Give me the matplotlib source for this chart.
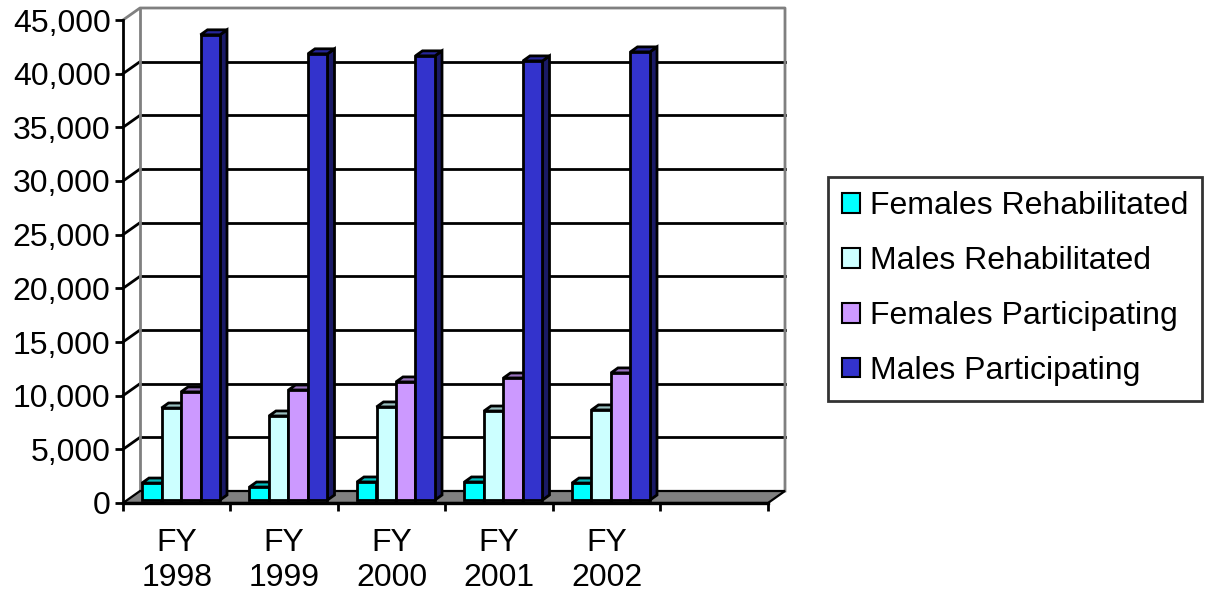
import matplotlib
matplotlib.use("Agg")
import matplotlib.pyplot as plt
from matplotlib.patches import Polygon, Patch
import numpy as np

plt.rcParams['font.family'] = ['Liberation Sans', 'DejaVu Sans']

years = ["FY\n1998", "FY\n1999", "FY\n2000", "FY\n2001", "FY\n2002"]
series = ["Females Rehabilitated", "Males Rehabilitated",
          "Females Participating", "Males Participating"]
females_rehab = [1580, 1210, 1680, 1680, 1580]
males_rehab = [8570, 7830, 8670, 8290, 8390]
females_part = [10070, 10250, 11000, 11370, 11840]
males_part = [43340, 41570, 41380, 40910, 41750]
values = [females_rehab, males_rehab, females_part, males_part]
colors = ["#00FFFF", "#CCFFFF", "#CC99FF", "#3333CC"]

W, H = 1207, 594
fig = plt.figure(figsize=(W / 100, H / 100), dpi=100)
# front axis: x 123..768 px, y 0 at 503 px, 45000 at 20 px
ax = fig.add_axes([123 / W, (H - 503) / H, (768 - 123) / W, (503 - 20) / H])
ncat = 6
ymax = 45000
ax.set_xlim(0, ncat)
ax.set_ylim(0, ymax)

px_x = ncat / (768 - 123)          # data x per pixel
px_y = ymax / (503 - 20)           # data y per pixel
dx, dy = 17 * px_x, 12 * px_y      # depth offset of back wall

# back wall gridlines and border
grid = np.arange(5000, ymax, 5000)
for g in grid:
    ax.plot([dx, ncat + dx], [g + dy, g + dy], color="black", lw=2,
            clip_on=False, zorder=1)
    ax.plot([0, dx], [g, g + dy], color="black", lw=2, clip_on=False, zorder=1)
ax.plot([0, dx, ncat + dx, ncat + dx], [ymax, ymax + dy, ymax + dy, dy],
        color="#808080", lw=2, clip_on=False, zorder=1)
ax.plot([dx, dx], [dy, ymax + dy], color="#808080", lw=2, clip_on=False, zorder=1)

# floor
floor = Polygon([(0, 0), (ncat, 0), (ncat + dx, dy), (dx, dy)], closed=True,
                facecolor="#808080", edgecolor="black", lw=1.6, clip_on=False, zorder=2)
ax.add_patch(floor)


def shade(c, f):
    c = np.array(matplotlib.colors.to_rgb(c))
    return tuple(c * f)


# bars
bw = 19.5 * px_x
f0 = 0.25
bdx, bdy = 7 * px_x, 5 * px_y
sx, sy = f0 * dx, f0 * dy
z = 3
for j in range(len(years)):
    c = j + 0.5
    for i, (vals, col) in enumerate(zip(values, colors)):
        v = vals[j]
        x0 = c + (i - 2) * bw + sx
        y0 = sy
        x1 = x0 + bw
        front = Polygon([(x0, y0), (x1, y0), (x1, y0 + v), (x0, y0 + v)],
                        facecolor=col, edgecolor="black", lw=2, clip_on=False, zorder=z + 2)
        top = Polygon([(x0, y0 + v), (x1, y0 + v), (x1 + bdx, y0 + v + bdy), (x0 + bdx, y0 + v + bdy)],
                      facecolor=shade(col, 0.75), edgecolor="black", lw=2, clip_on=False, zorder=z + 1)
        side = Polygon([(x1, y0), (x1 + bdx, y0 + bdy), (x1 + bdx, y0 + v + bdy), (x1, y0 + v)],
                       facecolor=shade(col, 0.5), edgecolor="black", lw=2, clip_on=False, zorder=z)
        for p in (side, top, front):
            ax.add_patch(p)
        z += 3

# axes
for s in ("top", "right"):
    ax.spines[s].set_visible(False)
ax.spines["left"].set_bounds(0, ymax)
ax.spines["left"].set_linewidth(2)
ax.spines["bottom"].set_linewidth(2.4)
ax.spines["bottom"].set_zorder(100)
ax.set_yticks(np.arange(0, ymax + 1, 5000))
ax.set_yticklabels([f"{t:,}" for t in range(0, ymax + 1, 5000)])
ax.tick_params(axis="y", direction="out", length=6, width=2, labelsize=23, pad=3)
ax.set_xticks(np.arange(len(years)) + 0.5)
ax.set_xticklabels(years, linespacing=1.2)
ax.set_xticks(np.arange(0, ncat + 1), minor=True)
ax.tick_params(axis="x", which="major", length=0, labelsize=23, pad=18)
ax.tick_params(axis="x", which="minor", direction="out", length=6, width=2)
ax.set_facecolor("none")

handles = [Patch(facecolor=c, edgecolor="black", lw=1.5) for c in colors]
leg = fig.legend(handles, series, loc="upper left",
                 bbox_to_anchor=(828 / W, (H - 177) / H), fontsize=23,
                 frameon=True, fancybox=False, handlelength=0.55, handleheight=0.55,
                 handletextpad=0.3, labelspacing=0.78, borderpad=0.45, borderaxespad=0)
leg.get_frame().set_edgecolor("black")
leg.get_frame().set_linewidth(2)

fig.savefig("out.png", dpi=100)
